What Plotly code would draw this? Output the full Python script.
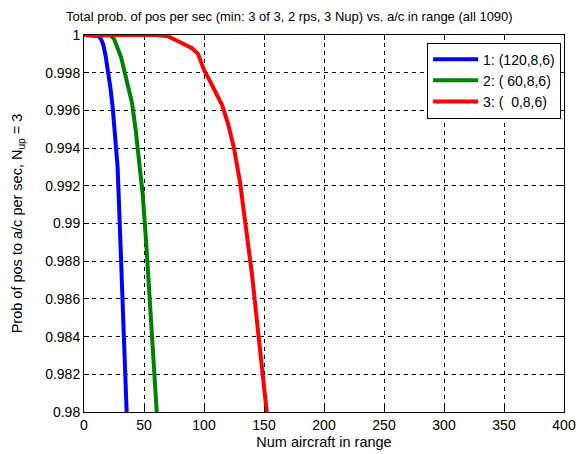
import plotly.graph_objects as go

# values
blue_x = [0, 10, 12, 14, 16, 18, 20, 22, 24, 26, 28, 30, 32, 34, 36]
blue_y = [1.0, 1.0, 0.99995, 0.9998, 0.9995, 0.9989, 0.9981, 0.9972, 0.9961,
          0.9946, 0.9930, 0.9896, 0.9862, 0.9827, 0.9792]

green_x = [0, 20, 22, 25, 28, 31, 34, 37, 40, 43, 46, 49, 52, 55, 58, 61]
green_y = [1.0, 1.0, 0.99998, 0.9998, 0.99935, 0.9988, 0.9980, 0.9972, 0.9964,
           0.9950, 0.9933, 0.9915, 0.9888, 0.9857, 0.9827, 0.9796]

red_x = [0, 60, 70, 80, 90, 95, 100, 105, 110, 115, 120, 125, 130, 135, 140, 145, 150, 155]
red_y = [1.0, 1.0, 0.99993, 0.99964, 0.9993, 0.9990, 0.99815, 0.99755, 0.99695,
         0.9963, 0.9953, 0.9940, 0.9922, 0.9899, 0.9873, 0.9843, 0.9814, 0.9784]

names = ["1: (120,8,6)", "2: (\u00a060,8,6)", "3: (\u00a0\u00a00,8,6)"]
colors = ["#0000ff", "#008000", "#ff0000"]

y_ticks = [0.98, 0.982, 0.984, 0.986, 0.988, 0.99, 0.992, 0.994, 0.996, 0.998, 1.0]
y_labels = ["0.98", "0.982", "0.984", "0.986", "0.988", "0.99", "0.992", "0.994", "0.996", "0.998", "1"]
x_ticks = [0, 50, 100, 150, 200, 250, 300, 350, 400]

fig = go.Figure()
for xs, ys, nm, c in zip([blue_x, green_x, red_x], [blue_y, green_y, red_y], names, colors):
    fig.add_trace(go.Scatter(x=xs, y=ys, name=nm, mode="lines",
                             line=dict(color=c, width=4)))

font = dict(family="Liberation Sans, Arial, sans-serif", size=12, color="black")

# the page body has an 8px margin, so the figure is a bit smaller than the window
fig.update_layout(
    width=579, height=446,
    margin=dict(l=76, r=23, t=27, b=42),
    paper_bgcolor="white", plot_bgcolor="white",
    font=font,
    title=dict(text="Total prob. of pos per sec (min: 3 of 3, 2 rps, 3 Nup) vs. a/c in range (all 1090)",
               x=0.486, xanchor="center", y=0.982, yanchor="middle", font=dict(size=13)),
    legend=dict(x=0.994, y=0.98, xanchor="right", yanchor="top",
                bgcolor="white", bordercolor="black", borderwidth=1,
                font=dict(size=14), tracegroupgap=0, itemwidth=45),
    xaxis=dict(range=[0, 400], tickvals=x_ticks, showgrid=True, automargin=False,
               gridcolor="black", griddash="4px,4px", gridwidth=0.6,
               showline=True, linecolor="black", linewidth=1, mirror="ticks",
               ticks="inside", ticklen=5, tickcolor="black", zeroline=False,
               title=dict(text="Num aircraft in range", standoff=5, font=dict(size=14.5)),
               tickfont=dict(size=14)),
    yaxis=dict(range=[0.98, 1.0], tickvals=y_ticks, ticktext=y_labels, showgrid=True,
               automargin=False,
               gridcolor="black", griddash="4px,4px", gridwidth=0.6,
               showline=True, linecolor="black", linewidth=1, mirror="ticks",
               ticks="inside", ticklen=5, tickcolor="black", zeroline=False,
               title=dict(text="Prob of pos to a/c per sec, N<sub>up</sub> = 3", standoff=19,
                          font=dict(size=14.5)),
               tickfont=dict(size=14)),
)

fig.write_html("out.html")
